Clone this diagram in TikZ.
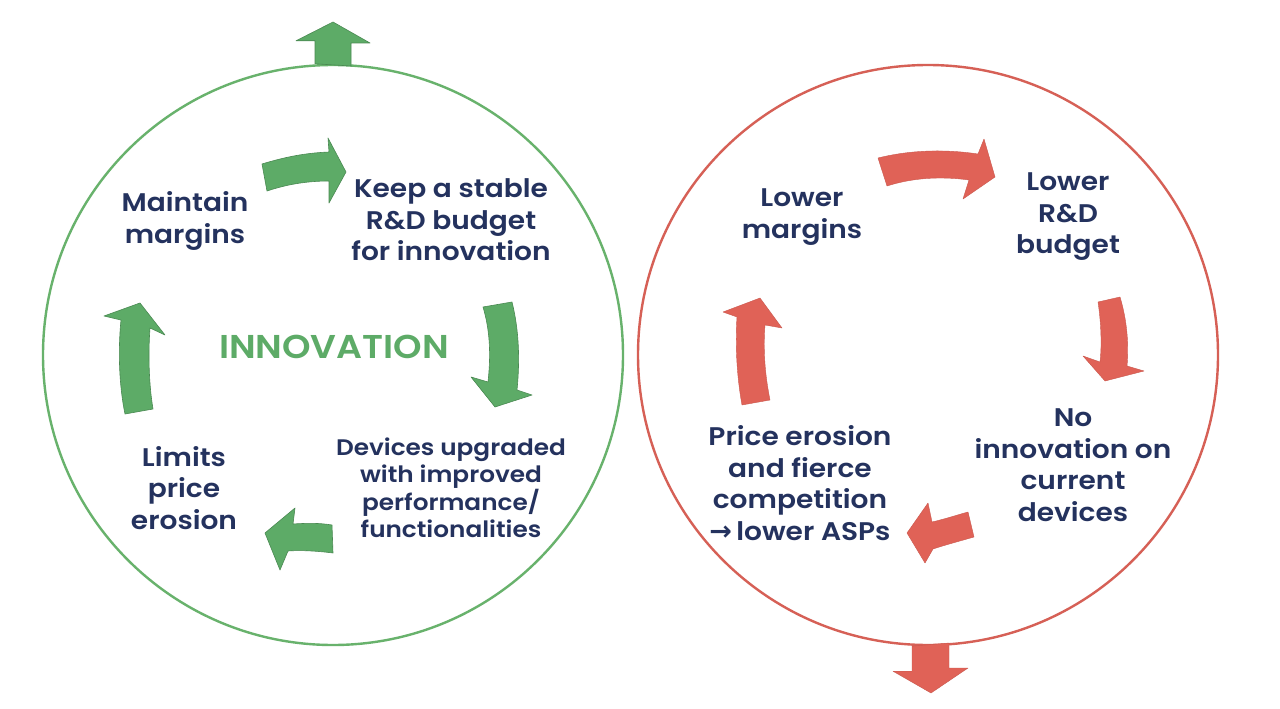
\documentclass[tikz,border=0pt]{standalone}
\usepackage{fontspec}
\setmainfont{Poppins}[BoldFont={Poppins SemiBold},FakeStretch=1.1]
\newfontfamily\symfont{DejaVu Sans}
\definecolor{navy}{RGB}{36,50,94}
\definecolor{gfill}{RGB}{93,171,103}
\definecolor{gline}{RGB}{104,178,108}
\definecolor{rfill}{RGB}{224,98,87}
\definecolor{rline}{RGB}{214,96,86}
\tikzset{
  txt/.style={text=navy,align=center,inner sep=0pt,font=\fontsize{25.5}{31.5}\selectfont\bfseries},
  txts/.style={text=navy,align=center,inner sep=0pt,font=\fontsize{22.5}{27}\selectfont\bfseries},
  garrow/.style={fill=gfill,draw=gfill!80!black,line width=0.6pt,line join=round},
  rarrow/.style={fill=rfill,draw=rfill!90!black,line width=0.4pt,line join=round},
  gcirc/.style={draw=gline,line width=2.4pt},
  rcirc/.style={draw=rline,line width=2.4pt}
}
\begin{document}
\begin{tikzpicture}[x=1pt,y=-1pt]
\useasboundingbox[fill=white] (0,0) rectangle (1280,709);
% circles
\node[gcirc,circle,minimum size=580pt,inner sep=0pt] (lc) at (333,355) {};
\node[rcirc,circle,minimum size=580pt,inner sep=0pt] (rc) at (928,355) {};
% outer arrows
\draw[garrow] (lc.north) ++(-18,0) -- ++(0,-23) -- ++(-19,0) -- (333,22) -- (370,43) -- (351,43) -- (351,66) -- cycle;
\draw[rarrow] (rc.south) ++(-16,0) -- ++(0,25) -- ++(-19,0) -- (931,693) -- (968,668) -- (949,668) -- (949,643) -- cycle;
% green cycle arrows
\draw[garrow] (262,164) .. controls (285,157) and (305,153) .. (329,152) -- (328,138) -- (346,172) -- (329,203) -- (329,181) .. controls (305,181) and (285,185) .. (267,191) -- cycle;
\draw[garrow] (483,307) -- (512,302) .. controls (519,330) and (520,360) .. (517,390) -- (532,395) -- (495,407) -- (471,377) -- (488,382) .. controls (491,355) and (490,330) .. (483,307) -- cycle;
\draw[garrow] (332,525) -- (333,553) .. controls (318,551) and (300,550) .. (288,551) -- (280,570) -- (265,533) -- (295,508) -- (293,524) .. controls (308,523) and (320,523) .. (332,525) -- cycle;
\draw[garrow] (125,414) -- (153,409) .. controls (149,385) and (148,355) .. (150,328) -- (165,335) -- (140,303) -- (104,316) -- (121,320) .. controls (118,350) and (119,385) .. (125,414) -- cycle;
% red cycle arrows
\draw[rarrow] (878,158) .. controls (910,150) and (945,149) .. (978,154) -- (984,139) -- (995,177) -- (963,199) -- (969,180) .. controls (940,176) and (912,178) .. (887,186) -- cycle;
\draw[rarrow] (1098,302) -- (1120,297) .. controls (1127,320) and (1129,345) .. (1127,366) -- (1144,371) -- (1105,381) -- (1083,356) -- (1100,362) .. controls (1102,345) and (1101,322) .. (1098,302) -- cycle;
\draw[rarrow] (968,512) -- (974,537) .. controls (960,541) and (945,545) .. (933,549) -- (925,563) -- (907,533) -- (928,503) -- (932,522) .. controls (945,519) and (957,515) .. (968,512) -- cycle;
\draw[rarrow] (742,405) -- (770,400) .. controls (765,375) and (763,350) .. (765,325) -- (782,328) -- (760,298) -- (723,312) -- (737,317) .. controls (735,345) and (737,378) .. (742,405) -- cycle;
% texts left
\node[txt] (maint) at (185,221) {Maintain\\margins};
\node[txt] (keep) at (451,220) {Keep a stable\\R\&D budget\\for innovation};
\node[text=gfill,inner sep=0pt,font=\fontsize{33}{38}\selectfont\bfseries] (innov) at (334,347) {INNOVATION};
\node[txts] (dev) at (451,488) {Devices upgraded\\with improved\\performance/\\functionalities};
\node[txt] (lim) at (184,488) {Limits\\price\\erosion};
% texts right
\node[txt] (lowm) at (802,217) {Lower\\margins};
\node[txt] (lowrd) at (1068,217) {Lower\\R\&D\\budget};
\node[txt] (noinn) at (1073,465) {No\\innovation on\\current\\devices};
\node[txt] (price) at (800,483) {Price erosion\\and fierce\\competition\\{\symfont\fontsize{27}{31.5}\selectfont →}\,lower ASPs};
\end{tikzpicture}
\end{document}
